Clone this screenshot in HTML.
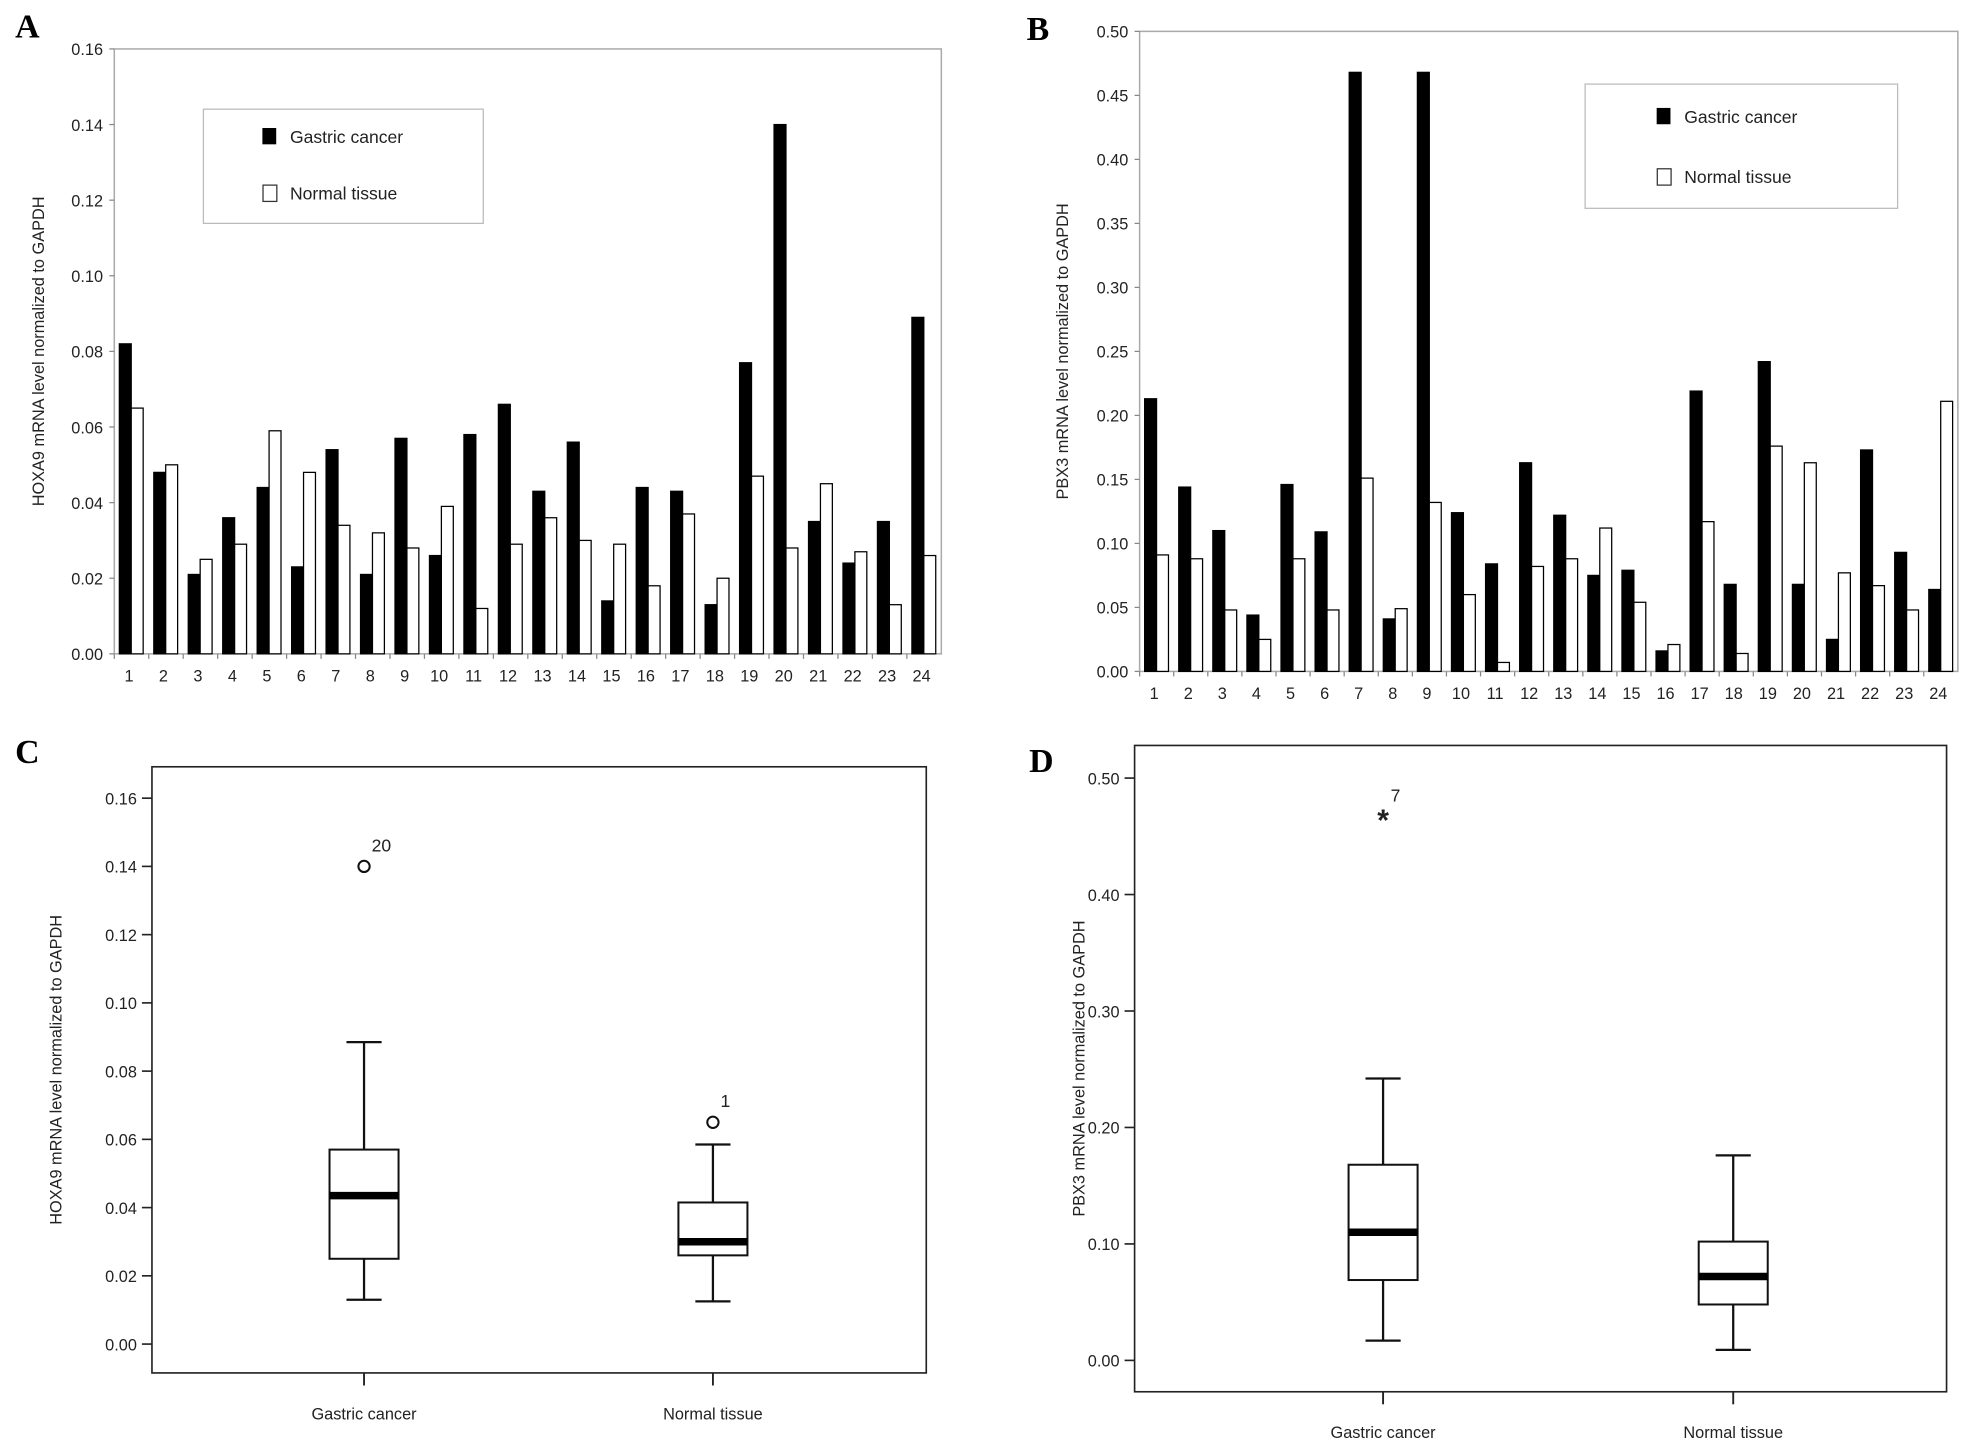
<!DOCTYPE html>
<html><head><meta charset="utf-8"><style>
html,body{margin:0;padding:0;background:#fff}
svg{display:block}
text{font-family:"Liberation Sans",Arial,sans-serif;fill:#222}
text.pl{font-family:"Liberation Serif","Times New Roman",serif;font-weight:bold;fill:#000}
</style></head><body>
<svg id="fig" width="1968" height="1452" viewBox="0 0 1568 1157" xmlns="http://www.w3.org/2000/svg">
<text class="pl" x="12" y="30" style="font-family:'Liberation Serif',serif" font-size="27">A</text>
<text class="pl" x="818" y="32" style="font-family:'Liberation Serif',serif" font-size="27">B</text>
<text class="pl" x="12" y="608" style="font-family:'Liberation Serif',serif" font-size="27">C</text>
<text class="pl" x="820" y="615" style="font-family:'Liberation Serif',serif" font-size="27">D</text>
<g id="gA"></g>
<g id="gB"></g>
<g id="gC"></g>
<g id="gD"></g>
</svg>
<script>
const NS="http://www.w3.org/2000/svg";
const samples=["1","2","3","4","5","6","7","8","9","10","11","12","13","14","15","16","17","18","19","20","21","22","23","24"];
const hoxaGastric=[0.082,0.048,0.021,0.036,0.044,0.023,0.054,0.021,0.057,0.026,0.058,0.066,0.043,0.056,0.014,0.044,0.043,0.013,0.077,0.140,0.035,0.024,0.035,0.089];
const hoxaNormal=[0.065,0.050,0.025,0.029,0.059,0.048,0.034,0.032,0.028,0.039,0.012,0.029,0.036,0.030,0.029,0.018,0.037,0.020,0.047,0.028,0.045,0.027,0.013,0.026];
const pbxGastric=[0.213,0.144,0.110,0.044,0.146,0.109,0.468,0.041,0.468,0.124,0.084,0.163,0.122,0.075,0.079,0.016,0.219,0.068,0.242,0.068,0.025,0.173,0.093,0.064];
const pbxNormal=[0.091,0.088,0.048,0.025,0.088,0.048,0.151,0.049,0.132,0.060,0.007,0.082,0.088,0.112,0.054,0.021,0.117,0.014,0.176,0.163,0.077,0.067,0.048,0.211];
const ticksA=["0.00","0.02","0.04","0.06","0.08","0.10","0.12","0.14","0.16"];
const ticksB=["0.00","0.05","0.10","0.15","0.20","0.25","0.30","0.35","0.40","0.45","0.50"];
const ticksD=["0.00","0.10","0.20","0.30","0.40","0.50"];
const groups=["Gastric cancer","Normal tissue"];
const hoxaBox=[[0.013,0.025,0.0435,0.057,0.0885],[0.0125,0.026,0.030,0.0415,0.0585]];
const hoxaOutliers=[[0.140,"20",0],[0.065,"1",1]];
const pbxBox=[[0.017,0.069,0.110,0.168,0.242],[0.009,0.048,0.072,0.102,0.176]];
const pbxOutliers=[[0.467,"7",0]];

function el(p,tag,a){const e=document.createElementNS(NS,tag);for(const k in a)e.setAttribute(k,a[k]);p.appendChild(e);return e;}
function txt(p,x,y,s,a){const t=el(p,"text",Object.assign({x:x,y:y},a||{}));t.textContent=s;return t;}

function barChart(g,cfg){
  const {L,R,T,B,max,ticks,gVals,nVals,title,titleX,leg}=cfg;
  const y=v=>B-(v/max)*(B-T);
  const n=samples.length,gw=(R-L)/n;
  const x=i=>L+i*gw;
  const frame=el(g,"rect",{x:L,y:T,width:R-L,height:B-T,fill:"none",stroke:"#aaa","stroke-width":1.2});
  
  
  ticks.forEach(t=>{
    const lb=txt(g,L-9,y(+t)+5,t,{"text-anchor":"end","font-size":13});
    
    
    el(g,"line",{x1:L-4,x2:L,y1:y(+t),y2:y(+t),stroke:"#888"});
  });
  samples.forEach((s,i)=>{
    const b1=el(g,"rect",{x:x(i)+4,y:y(gVals[i]),width:9.5,height:B-y(gVals[i]),fill:"#000",stroke:"#000"});
    
    
    const b2=el(g,"rect",{x:x(i)+13.5,y:y(nVals[i]),width:9.5,height:B-y(nVals[i]),fill:"#fff",stroke:"#000","stroke-width":1});
    
    
    el(g,"line",{x1:x(i),x2:x(i),y1:B,y2:B+4,stroke:"#888"});
    const lb=txt(g,x(i)+gw/2-2,B+22,s,{"text-anchor":"middle","font-size":13});
    
    
  });
  const yt=txt(g,0,0,title,{"text-anchor":"middle","font-size":13,transform:`translate(${titleX},${(T+B)/2}) rotate(-90)`});
  
  
  const lg=el(g,"g",{});
  
  
  el(lg,"rect",{x:leg.x,y:leg.y,width:leg.w,height:leg.h,fill:"#fff",stroke:"#bbb"});
  el(lg,"rect",{x:leg.sx,y:leg.y1-7,width:11,height:13,fill:"#000"});
  txt(lg,leg.sx+22,leg.y1+5,"Gastric cancer",{"font-size":14});
  el(lg,"rect",{x:leg.sx+0.5,y:leg.y2-6.5,width:11,height:13,fill:"#fff",stroke:"#333"});
  txt(lg,leg.sx+22,leg.y2+5,"Normal tissue",{"font-size":14});
}
barChart(document.getElementById("gA"),{L:91,R:750,T:39,B:521,max:0.16,ticks:ticksA,gVals:hoxaGastric,nVals:hoxaNormal,
  title:"HOXA9 mRNA level normalized to GAPDH",titleX:35,leg:{x:162,y:87,w:223,h:91,sx:209,y1:109,y2:154}});
barChart(document.getElementById("gB"),{L:908,R:1560,T:25,B:535,max:0.50,ticks:ticksB,gVals:pbxGastric,nVals:pbxNormal,
  title:"PBX3 mRNA level normalized to GAPDH",titleX:851,leg:{x:1263,y:67,w:249,h:99,sx:1320,y1:93,y2:141}});

function boxPlot(g,cfg){
  const {L,R,T,B,y0,yMax,max,ticks,cx,stats,outs,title,titleX,labY,star}=cfg;
  const y=v=>y0-(v/max)*(y0-yMax);
  const fr=el(g,"rect",{x:L,y:T,width:R-L,height:B-T,fill:"none",stroke:"#222","stroke-width":1.3});
  
  
  ticks.forEach(t=>{
    el(g,"line",{x1:L-8,x2:L,y1:y(+t),y2:y(+t),stroke:"#222","stroke-width":1.3});
    const lb=txt(g,L-12,y(+t)+5,t,{"text-anchor":"end","font-size":13});
    
    
  });
  stats.forEach((s,i)=>{
    const c=cx[i],w=55;
    const bg=el(g,"g",{});
    
    
    el(bg,"line",{x1:c,x2:c,y1:y(s[0]),y2:y(s[1]),stroke:"#111","stroke-width":1.8});
    el(bg,"line",{x1:c,x2:c,y1:y(s[3]),y2:y(s[4]),stroke:"#111","stroke-width":1.8});
    el(bg,"line",{x1:c-14,x2:c+14,y1:y(s[0]),y2:y(s[0]),stroke:"#111","stroke-width":1.8});
    el(bg,"line",{x1:c-14,x2:c+14,y1:y(s[4]),y2:y(s[4]),stroke:"#111","stroke-width":1.8});
    el(bg,"rect",{x:c-w/2,y:y(s[3]),width:w,height:y(s[1])-y(s[3]),fill:"#fff",stroke:"#111","stroke-width":1.6});
    el(bg,"line",{x1:c-w/2,x2:c+w/2,y1:y(s[2]),y2:y(s[2]),stroke:"#000","stroke-width":6});
    el(g,"line",{x1:c,x2:c,y1:B,y2:B+10,stroke:"#222","stroke-width":1.5});
    const lb=txt(g,c,labY,groups[i],{"text-anchor":"middle","font-size":13});
    
    
  });
  outs.forEach(o=>{
    const c=cx[o[2]],yy=y(o[0]);
    let m;
    if(star){m=txt(g,c,yy+11,"*",{"text-anchor":"middle","font-size":24,"font-weight":"bold"});}
    else{m=el(g,"circle",{cx:c,cy:yy,r:4.5,fill:"#fff",stroke:"#111","stroke-width":1.6});}
    
    
    const l=txt(g,c+6,yy-12,o[1],{"font-size":14});
    
    
  });
  const yt=txt(g,0,0,title,{"text-anchor":"middle","font-size":13,transform:`translate(${titleX},${(T+B)/2}) rotate(-90)`});
  
  
}
boxPlot(document.getElementById("gC"),{L:121,R:738,T:611,B:1094,y0:1071,yMax:636,max:0.16,ticks:ticksA,cx:[290,568],stats:hoxaBox,outs:hoxaOutliers,
  title:"HOXA9 mRNA level normalized to GAPDH",titleX:49,labY:1131,star:false});
boxPlot(document.getElementById("gD"),{L:904,R:1551,T:594,B:1109,y0:1084,yMax:620,max:0.50,ticks:ticksD,cx:[1102,1381],stats:pbxBox,outs:pbxOutliers,
  title:"PBX3 mRNA level normalized to GAPDH",titleX:864,labY:1146,star:true});
</script>
</body></html>
